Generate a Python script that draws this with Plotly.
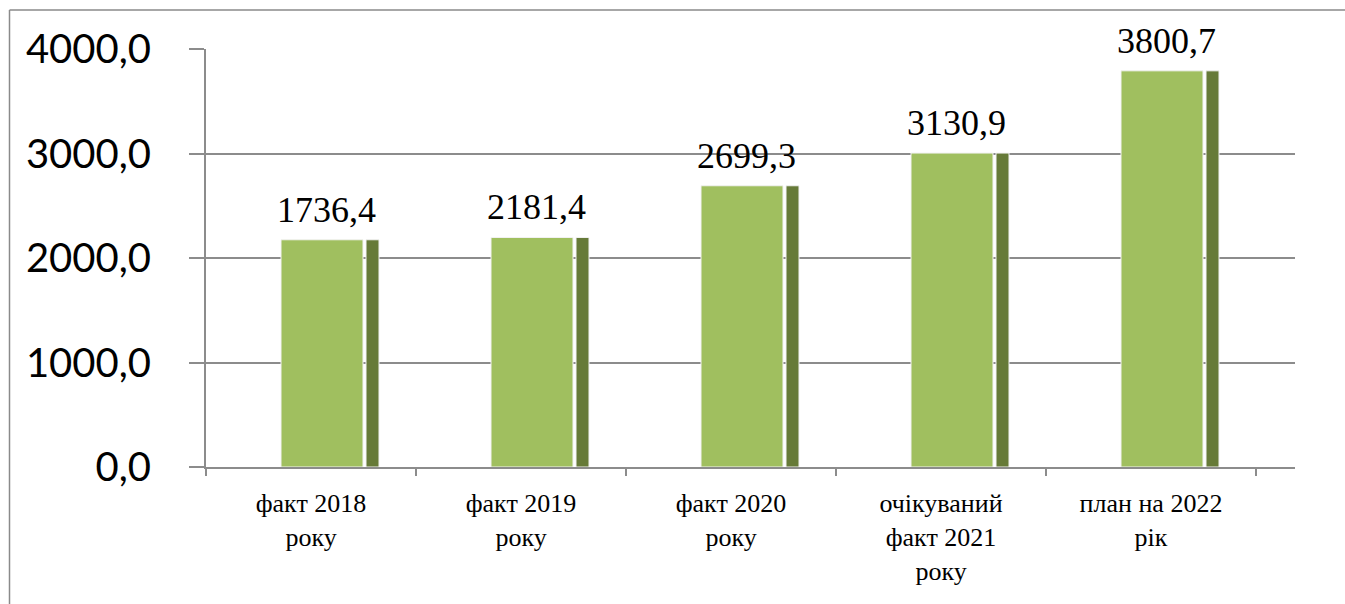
import plotly.graph_objects as go

categories = ["факт 2018<br>року", "факт 2019<br>року", "факт 2020<br>року",
              "очікуваний<br>факт 2021<br>року", "план на 2022<br>рік"]
# bar heights as drawn in the picture
bar_values = [2175, 2197, 2692, 3005, 3792]
# data labels as printed in the picture
label_texts = ["1736,4", "2181,4", "2699,3", "3130,9", "3800,7"]
y_ticks = [0, 1000, 2000, 3000, 4000]
y_tick_text = ["0,0", "1000,0", "2000,0", "3000,0", "4000,0"]

W, H = 1345, 604
L, R, T, B = 206, 50, 49, 137
cat_px = 210.0
plot_w = W - L - R
plot_h = H - T - B
x_extra = (plot_w - 5 * cat_px) / cat_px

grid = "#8C8C8C"
front = "#A0BF5F"
side = "#667A38"

idx = list(range(len(categories)))

fig = go.Figure()
fig.add_trace(go.Bar(
    x=idx, y=bar_values, width=82 / cat_px, offset=-30 / cat_px,
    marker=dict(color=front, line=dict(color="#F2F2F2", width=1)),
    hoverinfo="skip", showlegend=False))
fig.add_trace(go.Bar(
    x=idx, y=bar_values, width=13 / cat_px, offset=55 / cat_px,
    marker=dict(color=side, line=dict(color="#F2F2F2", width=1)),
    hoverinfo="skip", showlegend=False))

for i, (v, t) in enumerate(zip(bar_values, label_texts)):
    fig.add_annotation(x=i + 15 / cat_px, y=v, text=t, showarrow=False,
                       yanchor="middle", xanchor="center", yshift=30,
                       font=dict(family="Liberation Serif", size=36, color="black"))

# outer border (top and left edges visible)
bx = (9.5 - L) / plot_w
by = (H - 10 - B) / plot_h
fig.add_shape(type="line", xref="paper", yref="paper",
              x0=bx, x1=(W + 60 - L) / plot_w, y0=by, y1=by,
              line=dict(color="#8A8A8A", width=1.5), layer="below")
fig.add_shape(type="line", xref="paper", yref="paper",
              x0=bx, x1=bx, y0=by, y1=-(B + 60) / plot_h,
              line=dict(color="#8A8A8A", width=1.5), layer="below")

fig.update_layout(
    width=W, height=H,
    margin=dict(l=L, r=R, t=T, b=B, pad=0),
    paper_bgcolor="white", plot_bgcolor="white",
    barmode="overlay",
    xaxis=dict(
        type="linear", range=[-0.5, 4.5 + x_extra],
        tickmode="array", tickvals=idx, ticktext=categories,
        showgrid=False, zeroline=False,
        showline=True, linecolor=grid, linewidth=2,
        ticks="", tickfont=dict(family="Liberation Serif", size=26, color="black"),
        ticklabelstandoff=12,
    ),
    xaxis2=dict(
        overlaying="x", matches="x", range=[-0.5, 4.5 + x_extra],
        tickmode="array", tickvals=[i - 0.5 for i in range(6)], ticktext=[""] * 6,
        ticks="outside", ticklen=8, tickwidth=2, tickcolor=grid,
        showgrid=False, zeroline=False, showline=False, anchor="y", side="bottom",
    ),
    yaxis=dict(
        range=[0, 4001], tickmode="array", tickvals=y_ticks, ticktext=y_tick_text,
        showgrid=True, gridcolor=grid, gridwidth=2,
        zeroline=False, showline=True, linecolor=grid, linewidth=2,
        ticks="outside", ticklen=15, tickwidth=2, tickcolor=grid,
        tickfont=dict(family="Lato, Carlito, sans-serif", size=40, color="black"),
        ticklabelstandoff=30,
    ),
)
fig.add_trace(go.Scatter(x=[0], y=[0], xaxis="x2", mode="markers",
                         marker=dict(opacity=0), hoverinfo="skip", showlegend=False))

fig.write_html("out.html", config={"displayModeBar": False},
               post_script="document.body.style.margin='0';document.body.style.overflow='hidden';")
